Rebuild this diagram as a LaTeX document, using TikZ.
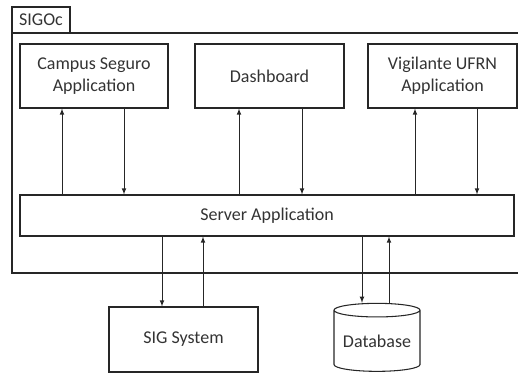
\documentclass[tikz,border=0pt]{standalone}
\usepackage{fontspec}
\setmainfont{Carlito}
\usetikzlibrary{shapes.geometric}

\begin{document}
\begin{tikzpicture}[x=0.75pt, y=-0.75pt, >=latex,
  box/.style={draw, black!85, line width=0.8pt, text=black!80, align=center,
    font=\fontsize{13.5}{16.5}\selectfont, inner sep=0pt},
  link/.style={->, black!85, line width=0.6pt}]

\useasboundingbox (0,0) rectangle (518,376);

% SIGOc frame, open on the right
\draw[black!85, line width=0.8pt] (518,33) -- (12,33) -- (12,273) -- (518,273);
\node[box, minimum width=43.5pt, minimum height=19.5pt] (sigoc) at (41,20) {SIGOc};

\path
(94,76) node[box, minimum width=111pt, minimum height=48pt] (campus) {Campus Seguro\\Application}
(269.5,76) node[box, minimum width=111.75pt, minimum height=48pt] (dash) {Dashboard}
(442.5,76) node[box, minimum width=111.75pt, minimum height=48pt] (vigil) {Vigilante UFRN\\Application}
(267,215.5) node[box, minimum width=370.5pt, minimum height=30.75pt] (server) {Server Application};

\path
(183.5,339.5) node[box, minimum width=111.75pt, minimum height=48.75pt] (sig) {SIG System}
(377,341) node[box, cylinder, shape border rotate=90, aspect=0.2,
  minimum width=64.5pt, minimum height=51pt] (db) {Database};

%% Arrows between the applications and the server
\draw[link] (server.north -| 62,0) -- (campus.south -| 62,0);
\draw[link] (campus.south -| 124,0) -- (server.north -| 124,0);
\draw[link] (server.north -| 239,0) -- (dash.south -| 239,0);
\draw[link] (dash.south -| 302,0) -- (server.north -| 302,0);
\draw[link] (server.north -| 415,0) -- (vigil.south -| 415,0);
\draw[link] (vigil.south -| 477,0) -- (server.north -| 477,0);

%% Arrows between the server and the outside systems
\draw[link] (server.south -| 162,0) -- (sig.north -| 162,0);
\draw[link] (sig.north -| 203,0) -- (server.south -| 203,0);
\draw[link] (server.south -| 362,0) -- (db.north -| 362,0);
\draw[link] (db.north -| 389,0) -- (server.south -| 389,0);

\end{tikzpicture}
\end{document}
